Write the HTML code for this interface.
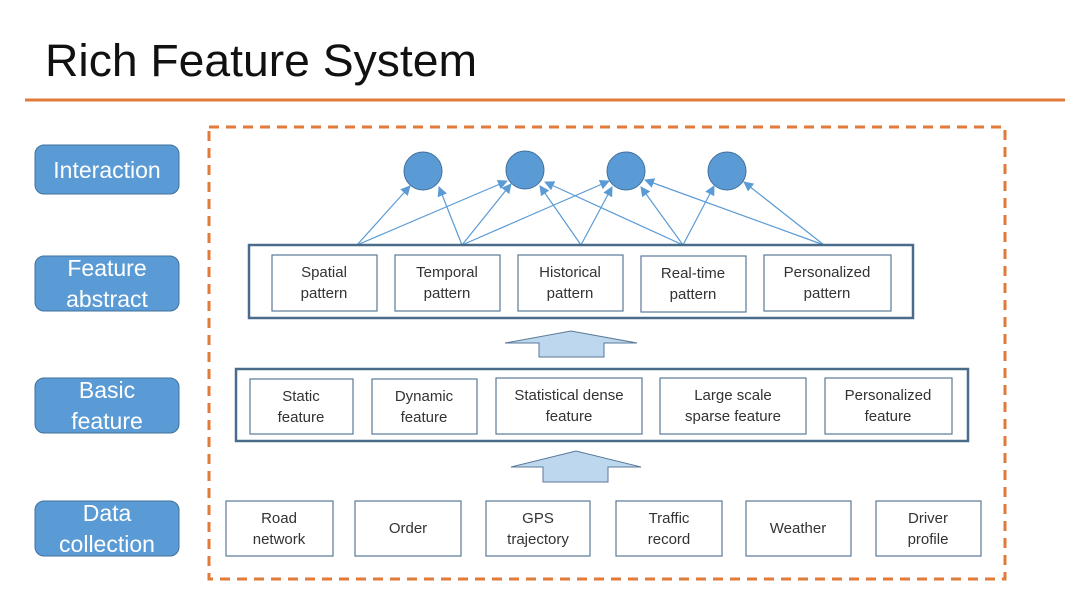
<!DOCTYPE html>
<html><head><meta charset="utf-8"><style>
body{margin:0;width:1080px;height:607px;background:#fff;overflow:hidden;font-family:"Liberation Sans",sans-serif}
</style></head><body>
<svg width="1080" height="607" xmlns="http://www.w3.org/2000/svg" font-family="Liberation Sans, sans-serif">
<defs><marker id="ah" markerWidth="10" markerHeight="10" refX="9" refY="5" orient="auto" markerUnits="userSpaceOnUse"><path d="M0,0 L10,5 L0,10 z" fill="#5b9bd5"/></marker></defs>
<text x="45" y="76" font-size="45" fill="#111" textLength="432" lengthAdjust="spacingAndGlyphs">Rich Feature System</text>
<line x1="25" y1="100" x2="1065" y2="100" stroke="#e07b39" stroke-width="3"/>
<rect x="209" y="127" width="796" height="452" fill="none" stroke="#e07b39" stroke-width="3" stroke-dasharray="10,7"/>
<g fill="#5b9bd5" stroke="#41719c" stroke-width="1">
<rect x="35" y="145" width="144" height="49" rx="9"/>
<rect x="35" y="256" width="144" height="55" rx="9"/>
<rect x="35" y="378" width="144" height="55" rx="9"/>
<rect x="35" y="501" width="144" height="55" rx="9"/>
</g>
<g fill="#fff" font-size="23" text-anchor="middle">
<text x="107" y="178">Interaction</text>
<text x="107" y="276">Feature</text><text x="107" y="307">abstract</text>
<text x="107" y="398">Basic</text><text x="107" y="429">feature</text>
<text x="107" y="521">Data</text><text x="107" y="552">collection</text>
</g>
<g fill="#5b9bd5" stroke="#41719c" stroke-width="1">
<ellipse cx="423" cy="171" rx="19" ry="19"/><ellipse cx="525" cy="170" rx="19" ry="19"/>
<ellipse cx="626" cy="171" rx="19" ry="19"/><ellipse cx="727" cy="171" rx="19" ry="19"/>
</g>
<g stroke="#5b9bd5" stroke-width="1.2" marker-end="url(#ah)">
<line x1="357" y1="245" x2="410" y2="186"/><line x1="357" y1="245" x2="507" y2="181"/>
<line x1="462" y1="245" x2="439" y2="187"/><line x1="462" y1="245" x2="511" y2="184"/><line x1="462" y1="245" x2="609" y2="181"/>
<line x1="581" y1="245" x2="540" y2="186"/><line x1="581" y1="245" x2="612" y2="187"/>
<line x1="683" y1="245" x2="545" y2="182"/><line x1="683" y1="245" x2="641" y2="187"/><line x1="683" y1="245" x2="714" y2="186"/>
<line x1="824" y1="245" x2="645" y2="180"/><line x1="824" y1="245" x2="744" y2="182"/>
</g>
<g fill="none" stroke="#4a6b8a" stroke-width="2.5">
<rect x="249" y="245" width="664" height="73"/>
<rect x="236" y="369" width="732" height="72"/>
</g>
<g fill="#fff" stroke="#5a7a98" stroke-width="1.2">
<rect x="272" y="255" width="105" height="56"/><rect x="395" y="255" width="105" height="56"/><rect x="518" y="255" width="105" height="56"/><rect x="641" y="256" width="105" height="56"/><rect x="764" y="255" width="127" height="56"/>
<rect x="250" y="379" width="103" height="55"/><rect x="372" y="379" width="105" height="55"/><rect x="496" y="378" width="146" height="56"/><rect x="660" y="378" width="146" height="56"/><rect x="825" y="378" width="127" height="56"/>
<rect x="226" y="501" width="107" height="55"/><rect x="355" y="501" width="106" height="55"/><rect x="486" y="501" width="104" height="55"/><rect x="616" y="501" width="106" height="55"/><rect x="746" y="501" width="105" height="55"/><rect x="876" y="501" width="105" height="55"/>
</g>
<g fill="#bdd7ee" stroke="#5a7a98" stroke-width="1">
<path d="M539,357 V343 H505 L571,331 L637,343 H604 V357 Z"/>
<path d="M543,482 V467 H511 L576,451 L641,467 H608 V482 Z"/>
</g>
<g fill="#333" font-size="15" text-anchor="middle">
<text x="324" y="277">Spatial</text><text x="324" y="298">pattern</text>
<text x="447" y="277">Temporal</text><text x="447" y="298">pattern</text>
<text x="570" y="277">Historical</text><text x="570" y="298">pattern</text>
<text x="693" y="278">Real-time</text><text x="693" y="299">pattern</text>
<text x="827" y="277">Personalized</text><text x="827" y="298">pattern</text>
<text x="301" y="401">Static</text><text x="301" y="422">feature</text>
<text x="424" y="401">Dynamic</text><text x="424" y="422">feature</text>
<text x="569" y="400">Statistical dense</text><text x="569" y="421">feature</text>
<text x="733" y="400">Large scale</text><text x="733" y="421">sparse feature</text>
<text x="888" y="400">Personalized</text><text x="888" y="421">feature</text>
<text x="279" y="523">Road</text><text x="279" y="544">network</text>
<text x="408" y="533">Order</text>
<text x="538" y="523">GPS</text><text x="538" y="544">trajectory</text>
<text x="669" y="523">Traffic</text><text x="669" y="544">record</text>
<text x="798" y="533">Weather</text>
<text x="928" y="523">Driver</text><text x="928" y="544">profile</text>
</g>
</svg>
</body></html>
